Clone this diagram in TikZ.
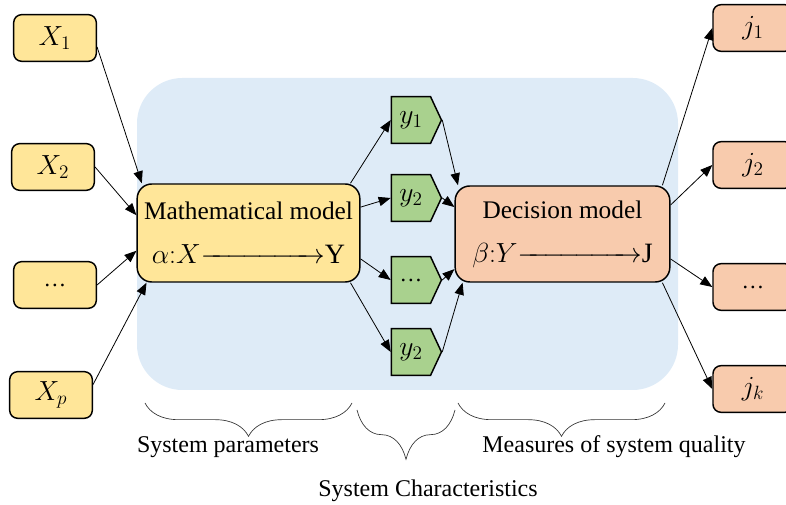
\documentclass[tikz,border=0pt]{standalone}
\usepackage{amsmath}
\usepackage{fontspec}
\setmainfont{Liberation Serif}
\usepackage{tikz}
\usetikzlibrary{positioning, shapes.symbols, arrows.meta, decorations.pathreplacing}

\definecolor{inyellow}{HTML}{FFE699}
\definecolor{outorange}{HTML}{F8CBAD}
\definecolor{midgreen}{HTML}{A9D18E}
\definecolor{sysblue}{HTML}{DEEBF7}

\newcommand{\mapline}[3]{{\fontsize{21}{24}\selectfont$#1{:}#2{\xrightarrow{\hspace{3.9em}}}$#3}}
\newcommand{\moredots}{{\fontsize{17}{20}\selectfont…}}

\begin{document}
\begin{tikzpicture}[x=0.75pt, y=-0.75pt,
        every node/.style={font=\fontsize{19}{22}\selectfont},
        inbox/.style={draw, line width=1.1pt, fill=inyellow, rounded corners=6pt, minimum width=62pt, minimum height=35pt,
                      font=\fontsize{21}{24}\selectfont},
        outbox/.style={draw, line width=1.1pt, fill=outorange, rounded corners=6pt, minimum width=60pt, minimum height=35pt,
                       font=\fontsize{21}{24}\selectfont},
        modelbox/.style={draw, line width=1.1pt, rounded corners=11pt, align=center, inner sep=0pt},
        charbox/.style={draw, line width=1.1pt, fill=midgreen, shape=signal, signal to=east, signal from=nowhere,
                        signal pointer angle=130, minimum width=37.5pt, minimum height=35pt, inner sep=1pt,
                        font=\fontsize{21}{24}\selectfont},
        link/.style={-{Triangle[length=9pt,width=7pt]}, line width=0.6pt},
        bracket/.style={decorate, line width=0.5pt, draw=black!80},
        caption/.style={font=\fontsize{18}{21}\selectfont}]
    \useasboundingbox (0,0) rectangle (786,505);

    % system area
    \fill[sysblue, rounded corners=34pt] (137,78) rectangle (678,390);

    % inputs
    \node[inbox] (x1) at (55,38)  {$X_1$};
    \node[inbox] (x2) at (53,167) {$X_2$};
    \node[inbox] (x3) at (55,285) {\moredots};
    \node[inbox] (xp) at (51,395) {$X_p$};

    % models
    \node[modelbox, fill=inyellow, minimum width=167pt, minimum height=73.5pt] (math) at (248.5,233)
        {Mathematical model\\[11pt]\mapline{\alpha}{X}{Y}};
    \node[modelbox, fill=outorange, minimum width=161pt, minimum height=72pt] (decision) at (562.5,234)
        {Decision model\\[11pt]\mapline{\beta}{Y}{J}};

    % characteristics
    \node[charbox] (y1) at (411,120) {$y_1$};
    \node[charbox] (y2) at (411,198) {$y_2$};
    \node[charbox] (y3) at (411,280) {\moredots};
    \node[charbox] (y4) at (411,352) {$y_2$};

    % outputs
    \node[outbox] (j1) at (753,28)  {$j_1$};
    \node[outbox] (j2) at (753,165) {$j_2$};
    \node[outbox] (j3) at (753,287) {\moredots};
    \node[outbox] (jk) at (753,389) {$j_k$};

    \draw[link] (x1.348) -- (math.155);
    \draw[link] (x2.east) -- (math.171);
    \draw[link] (x3.east) -- (math.189);
    \draw[link] (xp.14)   -- (math.206);

    \draw[link] (math.26)  -- (y1.west);
    \draw[link] (math.13)  -- (y2.west);
    \draw[link] (math.347) -- (y3.west);
    \draw[link] (math.334) -- (y4.west);

    \draw[link] (y1.east) -- (decision.155);
    \draw[link] (y2.east) -- (decision.166);
    \draw[link] (y3.east) -- (decision.198);
    \draw[link] (y4.east) -- (decision.206);

    \draw[link] (decision.26)  -- (j1.west);
    \draw[link] (decision.15)  -- (j2.west);
    \draw[link] (decision.347) -- (j3.west);
    \draw[link] (decision.334) -- (jk.west);

    % braces
    \draw[bracket, decoration={brace, mirror, amplitude=25pt}] (145,403) -- (352,403);
    \draw[bracket, decoration={brace, mirror, amplitude=37pt}] (357,410) -- (455,410);
    \draw[bracket, decoration={brace, mirror, amplitude=25pt}] (458,403) -- (665,403);

    \node[caption] (params)  at (228,447) {System parameters};
    \node[caption] (quality) at (614,447) {Measures of system quality};
    \node[caption] (charac)  at (428,491) {System Characteristics};
\end{tikzpicture}
\end{document}
